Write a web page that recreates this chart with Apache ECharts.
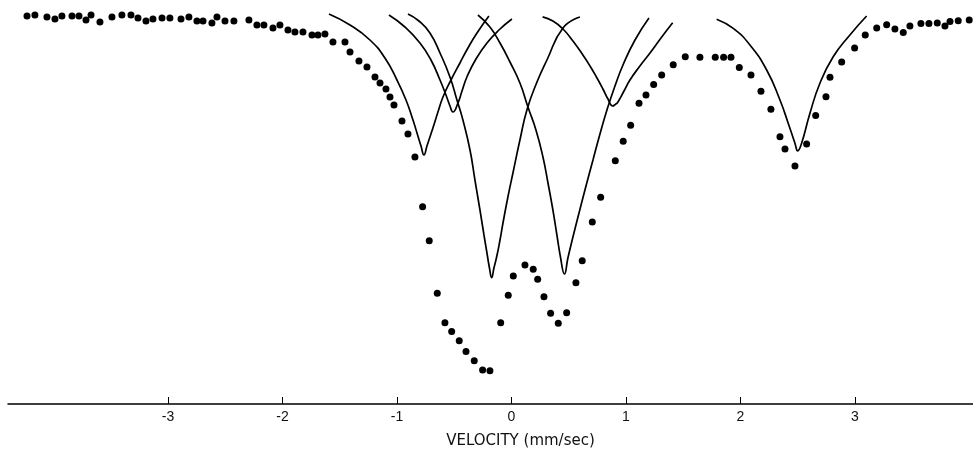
<!DOCTYPE html>
<html>
<head>
<meta charset="utf-8">
<script src="https://cdn.jsdelivr.net/npm/echarts@6/dist/echarts.min.js"></script>
<style>
  html, body { margin: 0; padding: 0; background: #fff; }
  #chart { width: 973px; height: 457px; }
</style>
</head>
<body>
<div id="chart"></div>
<script>
// velocity ticks (mm/sec)
const tickValues = [-3, -2, -1, 0, 1, 2, 3];

// measured spectrum: [velocity, relative transmission]
const dots = [
  [-4.231, 97], [-4.162, 97.25], [-4.057, 96.75], [-3.987, 96.25], [-3.926, 97],
  [-3.838, 97], [-3.777, 97], [-3.716, 96], [-3.672, 97.25], [-3.594, 95.5],
  [-3.489, 96.75], [-3.402, 97.25], [-3.323, 97.25], [-3.262, 96.5], [-3.192, 95.75],
  [-3.131, 96.25], [-3.052, 96.5], [-2.983, 96.5], [-2.886, 96.25], [-2.817, 96.75],
  [-2.747, 95.75], [-2.694, 95.75], [-2.616, 95.25], [-2.572, 96.75], [-2.502, 95.75],
  [-2.424, 95.75], [-2.293, 96], [-2.223, 94.75], [-2.162, 94.75], [-2.083, 94],
  [-2.022, 94.75], [-1.952, 93.5], [-1.891, 93], [-1.821, 93], [-1.742, 92.25],
  [-1.690, 92.25], [-1.629, 92.5], [-1.559, 90.5], [-1.454, 90.5], [-1.410, 88],
  [-1.332, 85.75], [-1.262, 84.25], [-1.192, 81.75], [-1.148, 80.25], [-1.096, 78.75],
  [-1.061, 76.75], [-1.026, 74.75], [-0.956, 70.75], [-0.904, 67.5], [-0.843, 61.75],
  [-0.776, 49.3], [-0.718, 40.8], [-0.648, 27.7], [-0.581, 20.3], [-0.522, 18.1],
  [-0.456, 15.8], [-0.397, 13.1], [-0.325, 10.8], [-0.252, 8.5], [-0.188, 8.3],
  [-0.094, 20.3], [-0.028, 27.2], [0.016, 32], [0.118, 34.75], [0.190, 33.7],
  [0.229, 31.2], [0.284, 26.8], [0.342, 22.7], [0.409, 20.2], [0.482, 22.8],
  [0.563, 30.3], [0.618, 35.8], [0.706, 45.5], [0.779, 51.7], [0.907, 60.8],
  [0.976, 65.7], [1.041, 69.7], [1.114, 75.2], [1.175, 77.25], [1.242, 79.9],
  [1.312, 82.25], [1.413, 84.8], [1.518, 86.8], [1.646, 86.7], [1.780, 86.7],
  [1.853, 86.7], [1.917, 86.7], [1.990, 84.1], [2.092, 82.25], [2.179, 78.2],
  [2.266, 73.7], [2.345, 66.8], [2.389, 63.75], [2.476, 59.5], [2.578, 65],
  [2.657, 72.1], [2.747, 76.8], [2.782, 81.7], [2.884, 85.5], [2.997, 89],
  [3.090, 92.25], [3.190, 94], [3.277, 94.8], [3.349, 93.75], [3.422, 92.9],
  [3.480, 94.5], [3.576, 95.1], [3.646, 95.1], [3.719, 95.25], [3.786, 94.5],
  [3.830, 95.6], [3.902, 95.8], [3.998, 96]
];

// fitted component lines
const lineA = [
  [-1.594, 97.5], [-1.410, 94.75], [-1.236, 91], [-1.105, 86.5], [-1.000, 81],
  [-0.921, 76], [-0.860, 71], [-0.817, 67], [-0.790, 64.5], [-0.764, 62.25],
  [-0.738, 64.5], [-0.712, 66.75], [-0.686, 69], [-0.642, 73], [-0.598, 76.75],
  [-0.528, 81], [-0.450, 85.25], [-0.380, 89], [-0.301, 92.75], [-0.197, 97]
];
const lineB = [
  [-1.070, 97.25], [-0.930, 94.25], [-0.799, 90.25], [-0.703, 86], [-0.624, 81],
  [-0.572, 77.25], [-0.537, 74.5], [-0.511, 73], [-0.467, 75.25], [-0.432, 78.25],
  [-0.389, 81.75], [-0.310, 86.25], [-0.214, 90.25], [-0.109, 93.5], [0.004, 96.25]
];
const lineC = [
  [-0.904, 97.5], [-0.808, 95.75], [-0.712, 92.75], [-0.624, 87.75], [-0.537, 81.75],
  [-0.476, 76], [-0.424, 71], [-0.362, 63.5], [-0.319, 56], [-0.275, 48.5],
  [-0.240, 42.25], [-0.214, 37.75], [-0.192, 34], [-0.173, 31.6], [-0.153, 34],
  [-0.129, 36.8], [-0.100, 41], [-0.074, 45.25], [-0.031, 51.75], [0.013, 57.75],
  [0.074, 66], [0.135, 73.5], [0.223, 80.5], [0.310, 86], [0.450, 94], [0.598, 96.75]
];
const lineD = [
  [-0.293, 97.25], [-0.188, 94.25], [-0.100, 90.25], [-0.013, 85.5], [0.074, 80.25],
  [0.144, 74.25], [0.214, 68.5], [0.275, 61.75], [0.319, 55.25], [0.362, 48.5],
  [0.397, 42.25], [0.428, 36.75], [0.463, 32.5], [0.493, 36.5], [0.537, 41.75],
  [0.590, 47.75], [0.651, 54.5], [0.712, 61], [0.773, 67.5], [0.834, 73.5],
  [0.904, 79.5], [0.974, 84.75], [1.079, 91], [1.201, 96.5]
];
const lineE = [
  [0.272, 96.8], [0.362, 95.75], [0.450, 93.75], [0.537, 90.75], [0.624, 87.25],
  [0.686, 84.5], [0.747, 81.5], [0.799, 78.75], [0.843, 76.25], [0.884, 74.5],
  [0.908, 74.9], [0.930, 75.5], [0.983, 78.25], [1.035, 81],
  [1.122, 84.5], [1.210, 87.75], [1.306, 91.5], [1.408, 95.3]
];
const lineF = [
  [1.792, 96.2], [1.937, 93.9], [2.083, 89.75], [2.229, 83.5], [2.345, 76],
  [2.417, 70.2], [2.476, 65.2], [2.500, 63.3], [2.534, 65.2], [2.607, 72.7],
  [2.694, 80.2], [2.810, 86.8], [2.956, 92.25], [3.102, 97]
];

const chart = echarts.init(document.getElementById('chart'));

function fitLine(data) {
  return {
    type: 'line',
    data: data,
    smooth: 0.5,
    showSymbol: false,
    silent: true,
    lineStyle: { color: '#000', width: 1.7 }
  };
}

chart.setOption({
  animation: false,
  backgroundColor: '#fff',
  grid: { left: 8, right: 0, top: 4, bottom: 53 },
  xAxis: {
    type: 'value',
    min: -4.397,
    max: 4.031,
    name: 'VELOCITY (mm/sec)',
    nameLocation: 'middle',
    nameGap: 30,
    nameTextStyle: {
      color: '#111',
      fontFamily: 'DejaVu Sans',
      fontSize: 15,
      padding: [0, 0, 0, 60]
    },
    axisLine: { lineStyle: { color: '#000', width: 1.5 } },
    axisTick: {
      inside: true,
      length: 7,
      customValues: tickValues,
      lineStyle: { color: '#000', width: 1 }
    },
    axisLabel: {
      customValues: tickValues,
      color: '#111',
      fontFamily: 'Liberation Sans',
      fontSize: 14,
      margin: 6
    },
    splitLine: { show: false }
  },
  yAxis: {
    type: 'value',
    min: 0,
    max: 100,
    show: false
  },
  series: [
    fitLine(lineA),
    fitLine(lineB),
    fitLine(lineC),
    fitLine(lineD),
    fitLine(lineE),
    fitLine(lineF),
    {
      type: 'scatter',
      data: dots,
      symbolSize: 7,
      itemStyle: { color: '#000', opacity: 1 }
    }
  ]
});
</script>
</body>
</html>
